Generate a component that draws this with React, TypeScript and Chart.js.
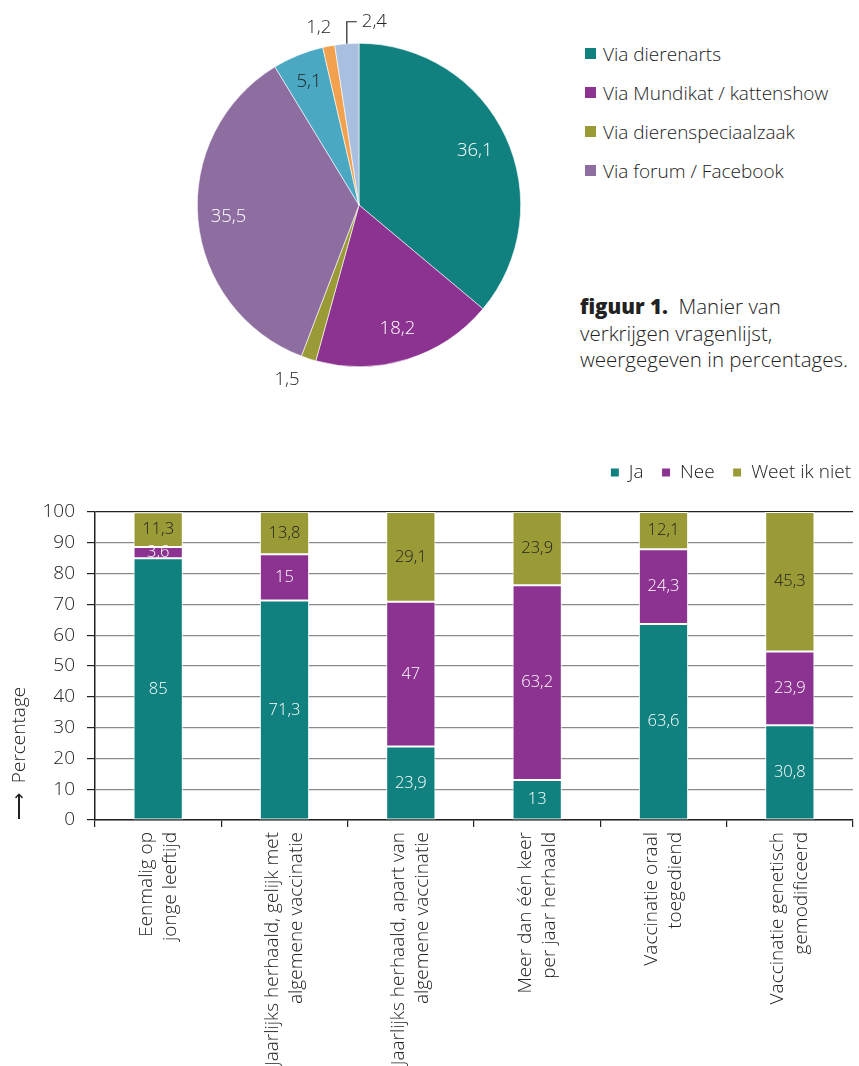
import React, { useEffect, useRef } from 'react';
import { Chart, registerables } from 'chart.js';

Chart.register(...registerables);

const FONT = '"Open Sans", "Liberation Sans", sans-serif';
const W = 300;
const TEXT = '#222222';

// ---------- Pie data ----------
const pieLabels = [
  'Via dierenarts',
  'Via Mundikat / kattenshow',
  'Via dierenspeciaalzaak',
  'Via forum / Facebook',
  'Overig',
  'Overig ',
  'Overig  ',
];
const pieValues = [36.1, 18.2, 1.5, 35.5, 5.1, 1.2, 2.4];
const pieColors = ['#10817f', '#8c3391', '#9a9a37', '#8e6ea0', '#4aa8c2', '#f2a24e', '#a9bfdf'];
const pieLegendCount = 4;

// ---------- Bar data ----------
const categories = [
  ['Eenmalig op', 'jonge leeftijd'],
  ['Jaarlijks herhaald, gelijk met', 'algemene vaccinatie'],
  ['Jaarlijks herhaald, apart van', 'algemene vaccinatie'],
  ['Meer dan één keer', 'per jaar herhaald'],
  ['Vaccinatie oraal', 'toegediend'],
  ['Vaccinatie genetisch', 'gemodificeerd'],
];
const jaValues = [85, 71.3, 23.9, 13, 63.6, 30.8];
const neeValues = [3.6, 15, 47, 63.2, 24.3, 23.9];
const weetValues = [11.3, 13.8, 29.1, 23.9, 12.1, 45.3];
const seriesNames = ['Ja', 'Nee', 'Weet ik niet'];
const barColors = ['#10817f', '#8c3391', '#9a9a37'];
const yMin = 0;
const yMax = 100;
const yStep = 10;

const fmt = (v: number) => String(v).replace('.', ',');

// label placement (style) per pie slice
const piePlacement = [
  { r: 0.79, dx: 0, dy: 0, color: '#fff' },
  { r: 0.8, dx: 0, dy: 0, color: '#fff' },
  { r: 1.17, dx: -13, dy: -5, color: TEXT },
  { r: 0.81, dx: 0, dy: 0, color: '#fff' },
  { r: 0.82, dx: 0, dy: 0, color: TEXT },
  { r: 1.13, dx: -6, dy: 2, color: TEXT },
  { r: 0, dx: 0, dy: 0, color: TEXT, leader: true },
];

const pieLabelPlugin = {
  id: 'pieLabels',
  afterDatasetsDraw(chart: any) {
    const ctx = chart.ctx;
    const meta = chart.getDatasetMeta(0);
    ctx.save();
    ctx.font = `${W} 18.5px ${FONT}`;
    ctx.textBaseline = 'middle';
    meta.data.forEach((arc: any, i: number) => {
      const p = arc.getProps(['x', 'y', 'startAngle', 'endAngle', 'outerRadius'], true);
      const mid = (p.startAngle + p.endAngle) / 2;
      const pl = piePlacement[i];
      const text = fmt(pieValues[i]);
      if (pl.leader) {
        const ex = p.x + Math.cos(mid) * p.outerRadius;
        const ey = p.y + Math.sin(mid) * p.outerRadius;
        const topY = ey - 22;
        ctx.strokeStyle = TEXT;
        ctx.lineWidth = 1.2;
        ctx.beginPath();
        ctx.moveTo(ex, ey);
        ctx.lineTo(ex, topY);
        ctx.lineTo(ex + 10, topY);
        ctx.stroke();
        ctx.fillStyle = TEXT;
        ctx.textAlign = 'left';
        ctx.fillText(text, ex + 15, topY);
      } else {
        const rr = p.outerRadius * pl.r;
        ctx.fillStyle = pl.color;
        ctx.textAlign = 'center';
        ctx.fillText(text, p.x + Math.cos(mid) * rr + pl.dx, p.y + Math.sin(mid) * rr + pl.dy);
      }
    });
    ctx.restore();
  },
};

const barLabelPlugin = {
  id: 'barLabels',
  afterDatasetsDraw(chart: any) {
    const ctx = chart.ctx;
    ctx.save();
    ctx.font = `${W} 16.5px ${FONT}`;
    ctx.textAlign = 'center';
    ctx.textBaseline = 'middle';
    chart.data.datasets.forEach((ds: any, di: number) => {
      const meta = chart.getDatasetMeta(di);
      meta.data.forEach((bar: any, i: number) => {
        const p = bar.getProps(['x', 'y', 'base'], true);
        ctx.fillStyle = di === 2 ? TEXT : '#fff';
        ctx.fillText(fmt(ds.data[i]), p.x, (p.y + p.base) / 2);
      });
    });
    ctx.restore();
  },
};

// fixes the legend block height and nudges it to the right edge
const legendSpacing = {
  id: 'legendSpacing',
  beforeInit(chart: any) {
    const lg = chart.legend;
    if (!lg) return;
    const orig = lg.fit;
    lg.fit = function () {
      orig.call(this);
      this.height = 67;
    };
  },
  afterLayout(chart: any) {
    const lg = chart.legend;
    if (!lg) return;
    lg.left += 16;
    lg.right += 16;
  },
};

function PieChart() {
  const ref = useRef<HTMLCanvasElement>(null);
  useEffect(() => {
    const chart = new Chart(ref.current as HTMLCanvasElement, {
      type: 'pie',
      data: {
        labels: pieLabels,
        datasets: [
          {
            data: pieValues,
            backgroundColor: pieColors,
            borderColor: '#ffffff',
            borderWidth: 0.6,
          },
        ],
      },
      options: {
        responsive: false,
        animation: false,
        layout: { padding: { top: 43, bottom: 43, left: 38, right: 38 } },
        plugins: { legend: { display: false }, tooltip: { enabled: false } },
      },
      plugins: [pieLabelPlugin],
    } as any);
    return () => chart.destroy();
  }, []);
  return (
    <canvas
      ref={ref}
      width={400}
      height={410}
      style={{ position: 'absolute', left: 159, top: 0, width: 400, height: 410 }}
    />
  );
}

function BarChart() {
  const ref = useRef<HTMLCanvasElement>(null);
  useEffect(() => {
    const values = [jaValues, neeValues, weetValues];
    const chart = new Chart(ref.current as HTMLCanvasElement, {
      type: 'bar',
      data: {
        labels: categories,
        datasets: values.map((v, i) => ({
          label: seriesNames[i],
          data: v,
          backgroundColor: barColors[i],
          borderColor: '#ffffff',
          borderWidth: 1,
          borderSkipped: false,
          categoryPercentage: 1,
          barPercentage: 0.39,
        })),
      },
      options: {
        responsive: false,
        animation: false,
        layout: { padding: { left: 0, right: 6, top: 0, bottom: 0 } },
        plugins: {
          tooltip: { enabled: false },
          legend: {
            position: 'top',
            align: 'end',
            labels: {
              boxWidth: 9,
              boxHeight: 9,
              padding: 18,
              color: TEXT,
              font: { family: FONT, size: 19, weight: W },
            },
          },
        },
        scales: {
          x: {
            stacked: true,
            afterFit: (s: any) => {
              s.height = 246;
            },
            border: { color: TEXT, width: 1.5 },
            grid: {
              offset: true,
              drawOnChartArea: false,
              tickLength: 7,
              color: TEXT,
              lineWidth: 1.2,
            },
            ticks: {
              minRotation: 90,
              maxRotation: 90,
              autoSkip: false,
              padding: 5,
              labelOffset: -12,
              color: TEXT,
              font: { family: FONT, size: 19, lineHeight: 1.26, weight: W },
            },
          },
          y: {
            stacked: true,
            min: yMin,
            max: yMax,
            afterFit: (s: any) => {
              s.width = 95;
            },
            border: { color: TEXT, width: 1.5 },
            grid: {
              color: (c: any) => (c.tick && c.tick.value === yMax ? TEXT : '#8a8a8a'),
              tickColor: TEXT,
              lineWidth: 1.2,
              tickLength: 8,
            },
            ticks: {
              stepSize: yStep,
              padding: 12,
              color: TEXT,
              font: { family: FONT, size: 19, weight: W },
            },
            title: {
              display: true,
              text: '\u27F6  Percentage',
              align: 'start',
              color: TEXT,
              font: { family: FONT, size: 19, weight: W },
              padding: { top: 8, bottom: 0 },
            },
          },
        },
      },
      plugins: [legendSpacing, barLabelPlugin],
    } as any);
    return () => chart.destroy();
  }, []);
  return (
    <canvas
      ref={ref}
      width={859}
      height={621}
      style={{ position: 'absolute', left: 0, top: 445, width: 859, height: 621 }}
    />
  );
}

export default function App() {
  return (
    <div
      style={{
        position: 'absolute',
        left: 0,
        top: 0,
        width: 859,
        height: 1066,
        background: '#fff',
        fontFamily: FONT,
        fontWeight: W,
        color: TEXT,
        overflow: 'hidden',
      }}
    >
      <PieChart />
      <div style={{ position: 'absolute', left: 585, top: 34 }}>
        {pieLabels.slice(0, pieLegendCount).map((l, i) => (
          <div
            key={i}
            style={{ display: 'flex', alignItems: 'center', height: 39, fontSize: 19, whiteSpace: 'nowrap' }}
          >
            <span
              style={{
                display: 'inline-block',
                width: 11,
                height: 11,
                background: pieColors[i],
                marginRight: 7,
              }}
            />
            <span>{l}</span>
          </div>
        ))}
      </div>
      <div
        style={{
          position: 'absolute',
          left: 580,
          top: 293,
          fontSize: 20.5,
          lineHeight: '26.5px',
          whiteSpace: 'nowrap',
        }}
      >
        <b style={{ fontWeight: 800 }}>figuur 1.</b>
        {'\u00A0 Manier van'}
        <br />
        verkrijgen vragenlijst,
        <br />
        weergegeven in percentages.
      </div>
      <BarChart />
    </div>
  );
}
